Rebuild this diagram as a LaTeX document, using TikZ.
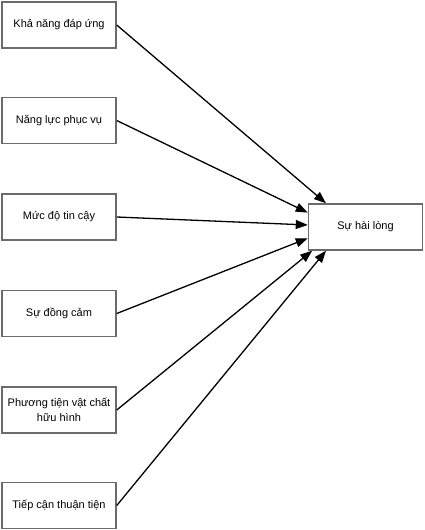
\documentclass[tikz,border=0pt]{standalone}
\usepackage{fontspec}
\setmainfont{Liberation Sans}
\usetikzlibrary{arrows.meta}

\begin{document}
\begin{tikzpicture}[x=1pt,y=-1pt,font=\fontsize{11}{14.5}\selectfont,
  factor/.style={draw=black!58,line width=1.5pt,minimum width=114pt,minimum height=46pt,align=center,inner sep=2pt},
  link/.style={line width=1.3pt,-{Triangle[length=12pt,width=9pt]}}]
\useasboundingbox (0,0) rectangle (424,530);
\node[factor] (dapung) at (59,25) {Khả năng đáp ứng};
\node[factor] (phucvu) at (59,120.5) {Năng lực phục vụ};
\node[factor] (tincay) at (59,217) {Mức độ tin cậy};
\node[factor] (dongcam) at (59,313.5) {Sự đồng cảm};
\node[factor] (huuhinh) at (59,410) {Phương tiện vật chất\\hữu hình};
\node[factor] (tiepcan) at (59,505.5) {Tiếp cận thuận tiện};
\node[factor] (hailong) at (365.5,227) {Sự hài lòng};
\draw[link] (dapung.east) -- (hailong.149);
\draw[link] (phucvu.east) -- (hailong.166);
\draw[link] (tincay.east) -- (hailong.178);
\draw[link] (dongcam.east) -- (hailong.191);
\draw[link] (huuhinh.east) -- (hailong.204);
\draw[link] (tiepcan.east) -- (hailong.211);
\end{tikzpicture}
\end{document}
